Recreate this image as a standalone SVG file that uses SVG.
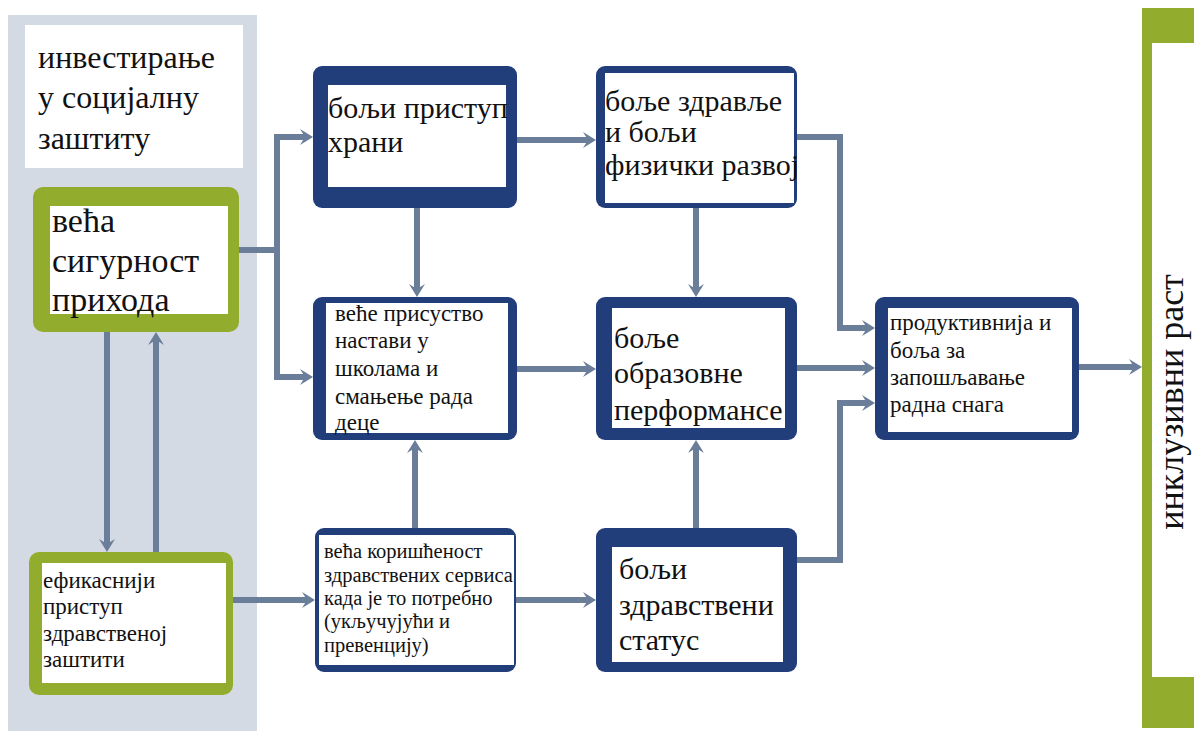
<svg xmlns="http://www.w3.org/2000/svg" width="1194" height="731" viewBox="0 0 1194 731">
<style>
.t{font-family:"Liberation Serif","DejaVu Serif",serif;fill:#111;}
.navy{fill:#213d7a;}
.green{fill:#92ad2e;}
.in{fill:#fff;}
.c{fill:none;stroke:#6a7e99;stroke-width:6;marker-end:url(#ah);}
</style>
<defs>
<marker id="ah" viewBox="0 0 13 16" refX="5" refY="8" markerWidth="13" markerHeight="16" markerUnits="userSpaceOnUse" orient="auto">
<path d="M0,0 L13,8 L0,16 L5,8 Z" fill="#6a7e99"/>
</marker>
</defs>
<rect x="0" y="0" width="1194" height="731" fill="#fff"/>
<rect x="8" y="15" width="249" height="716" fill="#d4dae3"/>

<g id="title">
<rect x="25" y="25" width="218" height="143" fill="#fff"/>
<text class="t" font-size="32"><tspan x="38" y="68">инвестирање</tspan><tspan x="38" y="108">у социјалну</tspan><tspan x="38" y="149">заштиту</tspan></text>
</g>

<g id="connectors">
<path class="c" d="M239,250 H277 V137 H305"/>
<path class="c" d="M277,250 V377 H305"/>
<path class="c" d="M417,208 V289"/>
<path class="c" d="M517,140 H588"/>
<path class="c" d="M696,208 V289"/>
<path class="c" d="M797,137 H840 V328 H867"/>
<path class="c" d="M517,369 H588"/>
<path class="c" d="M797,368 H867"/>
<path class="c" d="M797,560 H840 V403 H867"/>
<path class="c" d="M1079,367 H1134"/>
<path class="c" d="M415,528 V448"/>
<path class="c" d="M696,528 V448"/>
<path class="c" d="M516,600 H588"/>
<path class="c" d="M233,600 H307"/>
<path class="c" d="M107,332 V544"/>
<path class="c" d="M156,552 V340"/>
</g>

<g id="income">
<rect class="green" x="33" y="187" width="206" height="145" rx="10"/>
<rect class="in" x="50" y="206" width="178" height="108"/>
<text class="t" font-size="34"><tspan x="52" y="232">већа</tspan><tspan x="52" y="272">сигурност</tspan><tspan x="52" y="311">прихода</tspan></text>
</g>

<g id="health-access">
<rect class="green" x="29" y="552" width="204" height="143" rx="10"/>
<rect class="in" x="42" y="563" width="184" height="120"/>
<text class="t" font-size="23"><tspan x="43" y="588">ефикаснији</tspan><tspan x="43" y="614">приступ</tspan><tspan x="43" y="641">здравственој</tspan><tspan x="43" y="667">заштити</tspan></text>
</g>

<g id="food">
<rect class="navy" x="313" y="66" width="204" height="142" rx="9"/>
<rect class="in" x="328" y="85" width="178" height="102"/>
<text class="t" font-size="30"><tspan x="328" y="118">бољи приступ</tspan><tspan x="328" y="152">храни</tspan></text>
</g>

<g id="health-dev">
<rect class="navy" x="596" y="66" width="201" height="142" rx="9"/>
<rect class="in" x="605" y="73" width="189" height="130"/>
<text class="t" font-size="30"><tspan x="605" y="111">боље здравље</tspan><tspan x="605" y="142">и бољи</tspan><tspan x="605" y="175">физички развој</tspan></text>
</g>

<g id="school">
<rect class="navy" x="313" y="297" width="204" height="143" rx="9"/>
<rect class="in" x="326" y="303" width="182" height="130"/>
<text class="t" font-size="23"><tspan x="335" y="321">веће присуство</tspan><tspan x="335" y="348">настави у</tspan><tspan x="335" y="376">школама и</tspan><tspan x="335" y="404">смањење рада</tspan><tspan x="335" y="430">деце</tspan></text>
</g>

<g id="education">
<rect class="navy" x="596" y="297" width="201" height="143" rx="9"/>
<rect class="in" x="612" y="308" width="173" height="120"/>
<text class="t" font-size="30"><tspan x="614" y="348">боље</tspan><tspan x="614" y="383">образовне</tspan><tspan x="614" y="420">перформансе</tspan></text>
</g>

<g id="services">
<rect class="navy" x="315" y="528" width="201" height="144" rx="9"/>
<rect class="in" x="319" y="535" width="195" height="130"/>
<text class="t" font-size="20.5"><tspan x="324" y="558">већа коришћеност</tspan><tspan x="324" y="582">здравствених сервиса</tspan><tspan x="324" y="605">када је то потребно</tspan><tspan x="324" y="628">(укључујући и</tspan><tspan x="324" y="652">превенцију)</tspan></text>
</g>

<g id="health-status">
<rect class="navy" x="596" y="528" width="201" height="144" rx="9"/>
<rect class="in" x="612" y="547" width="171" height="115"/>
<text class="t" font-size="30"><tspan x="619" y="579">бољи</tspan><tspan x="619" y="615">здравствени</tspan><tspan x="619" y="650">статус</tspan></text>
</g>

<g id="workforce">
<rect class="navy" x="875" y="297" width="204" height="143" rx="9"/>
<rect class="in" x="888" y="308" width="184" height="124"/>
<text class="t" font-size="23"><tspan x="890" y="330">продуктивнија и</tspan><tspan x="890" y="358">боља за</tspan><tspan x="890" y="385">запошљавање</tspan><tspan x="890" y="412">радна снага</tspan></text>
</g>

<g id="growth">
<rect class="green" x="1142" y="8" width="52" height="720"/>
<rect class="in" x="1152" y="43" width="42" height="634"/>
<text class="t" font-size="36" text-anchor="middle" transform="translate(1183,402) rotate(-90)">инклузивни раст</text>
</g>
</svg>
